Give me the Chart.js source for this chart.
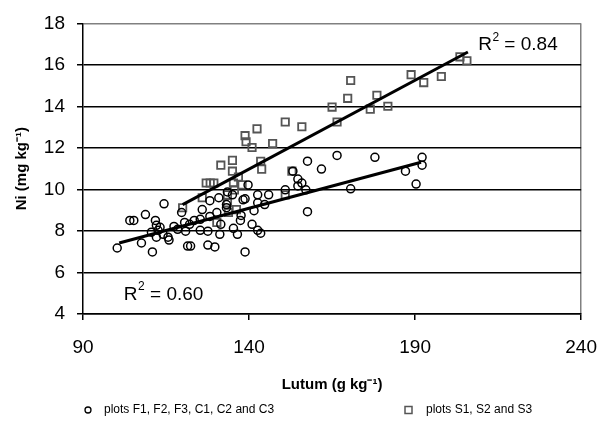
<!DOCTYPE html>
<html><head><meta charset="utf-8">
<script src="https://cdn.jsdelivr.net/npm/chart.js@4.4.0/dist/chart.umd.min.js"></script>
<style>html,body{margin:0;padding:0;background:#fff;}</style>
</head><body>
<canvas id="c" width="613" height="421"></canvas>
<script>
// Series F/C plots (circles): lutum (g/kg) and Ni (mg/kg)
const circleX = [100.3,104.1,105.3,107.6,108.8,110.9,111.8,112.1,113.2,110.6,112.1,114.1,112.6,114.4,115.9,117.4,119.7,120.6,120.9,121.5,122.4,122.1,123.5,125.3,125.9,125.3,127.6,127.6,128.2,128.2,129.7,130.9,131.2,131.5,130.3,133.2,133.5,135.0,135.3,136.5,137.4,137.6,138.2,138.8,139.7,140.9,141.5,142.6,142.6,142.6,143.5,144.7,145.9,150.9,153.2,154.7,155.9,154.7,157.1,157.6,157.6,161.8,166.5,170.6,177.9,187.1,190.3,192.1,192.1,138.8,115.6,133.2,118.5];
const circleY = [7.18,8.51,8.51,7.42,8.79,6.99,8.51,8.27,8.18,7.94,7.70,7.84,8.03,9.31,7.56,8.22,8.89,8.41,7.99,7.27,7.27,8.32,8.51,8.56,9.03,8.03,7.99,7.32,9.46,8.70,7.23,9.60,7.84,8.32,8.89,9.27,9.88,9.74,8.13,7.84,8.51,8.75,9.50,6.99,10.22,8.32,8.98,9.74,9.36,8.03,7.89,9.27,9.74,9.98,10.88,10.50,10.31,10.17,9.98,11.36,8.93,10.98,11.64,10.03,11.55,10.88,10.26,11.55,11.17,9.55,7.70,9.12,8.08];
// Series S plots (squares)
const squareX = [120.0,125.9,127.1,128.3,129.4,131.5,135.0,135.0,133.5,133.5,135.6,136.2,133.8,130.3,135.3,136.8,137.9,138.8,139.1,140.9,142.4,143.5,143.8,147.1,150.9,150.9,152.9,155.9,165.0,166.5,169.7,170.6,176.5,178.5,181.8,188.8,192.6,197.9,203.5,205.6];
const squareY = [9.12,9.60,10.31,10.31,10.31,11.17,11.40,10.88,9.74,9.36,9.98,9.03,8.89,8.41,10.31,10.60,10.22,12.59,12.30,12.02,12.92,11.36,10.98,12.21,13.25,9.74,10.88,13.02,13.97,13.25,14.39,15.25,13.87,14.54,14.01,15.53,15.15,15.44,16.39,16.20];
// Trend lines (end points)
const trendCircleX = [100.9, 191.8];
const trendCircleY = [7.42, 11.31];
const trendSquareX = [120.0, 205.9];
const trendSquareY = [9.27, 16.62];
// Labels
const legendLabels = ['plots F1, F2, F3, C1, C2 and C3', 'plots S1, S2 and S3'];
const r2Values = ['0.84', '0.60'];
const xTitle = 'Lutum (g kg\u207B\u00B9)';
const yTitle = 'Ni (mg kg\u207B\u00B9)';

const zip = (xs, ys) => xs.map((x, i) => ({x: x, y: ys[i]}));
const FONT = '"Liberation Sans", Arial, sans-serif';

const r2Pos = [{x: 209.0, y: 16.95}, {x: 102.3, y: 4.95}];

const extras = {
  id: 'extras',
  afterDraw(chart) {
    const ctx = chart.ctx;
    const xs = chart.scales.x, ys = chart.scales.y;
    ctx.save();
    ctx.fillStyle = '#000';
    ctx.textBaseline = 'middle';
    ctx.textAlign = 'left';
    r2Values.forEach((v, i) => {
      let px = xs.getPixelForValue(r2Pos[i].x);
      const py = ys.getPixelForValue(r2Pos[i].y);
      ctx.font = '19px ' + FONT;
      ctx.fillText('R', px, py);
      px += ctx.measureText('R').width + 0.5;
      ctx.font = '12px ' + FONT;
      ctx.fillText('2', px, py - 8);
      px += ctx.measureText('2').width;
      ctx.font = '19px ' + FONT;
      ctx.fillText(' = ' + v, px, py);
    });
    // legend
    const ly = 410;
    ctx.font = '12px ' + FONT;
    ctx.lineWidth = 1.3;
    ctx.strokeStyle = '#000';
    ctx.beginPath(); ctx.arc(88, ly, 3, 0, Math.PI * 2); ctx.stroke();
    ctx.fillText(legendLabels[0], 104, ly);
    ctx.strokeStyle = '#555';
    ctx.lineWidth = 1.5;
    ctx.strokeRect(405, ly - 3.5, 7, 7);
    ctx.fillText(legendLabels[1], 426, ly);
    ctx.restore();
  }
};

new Chart(document.getElementById('c'), {
  type: 'scatter',
  data: {
    datasets: [
      {label: 'trendS', data: zip(trendSquareX, trendSquareY), showLine: true, borderColor: '#000', borderWidth: 3, pointRadius: 0, order: 0},
      {label: 'trendF', data: zip(trendCircleX, trendCircleY), showLine: true, borderColor: '#000', borderWidth: 3, pointRadius: 0, order: 0},
      {label: legendLabels[1], data: zip(squareX, squareY), pointStyle: 'rect', pointRadius: 5.2, borderColor: '#555', borderWidth: 1.8, backgroundColor: 'rgba(0,0,0,0)', order: 2},
      {label: legendLabels[0], data: zip(circleX, circleY), pointStyle: 'circle', pointRadius: 4, borderColor: '#000', borderWidth: 1.5, backgroundColor: 'rgba(0,0,0,0)', order: 1}
    ]
  },
  options: {
    responsive: false,
    animation: false,
    events: [],
    layout: {padding: {left: 0, top: 23, right: 20, bottom: 24}},
    plugins: {legend: {display: false}, tooltip: {enabled: false}},
    scales: {
      x: {
        type: 'linear', min: 90, max: 240,
        afterFit: s => { s.height = 83; },
        ticks: {stepSize: 50, color: '#000', font: {family: FONT, size: 19}, padding: 16},
        grid: {
          drawOnChartArea: true,
          color: c => (c.tick && c.tick.value === 240) ? '#808080' : 'rgba(0,0,0,0)',
          tickColor: '#000', tickLength: 6, lineWidth: 1.5
        },
        border: {color: '#000', width: 1.5},
        title: {display: true, text: xTitle, color: '#000', font: {family: FONT, size: 15, weight: 'bold'}, padding: {top: 0, bottom: 3}}
      },
      y: {
        type: 'linear', min: 4, max: 18,
        afterFit: s => { s.width = 83; },
        ticks: {stepSize: 2, color: '#000', font: {family: FONT, size: 19}, padding: 12},
        grid: {
          color: c => (c.tick && c.tick.value === 18) ? '#808080' : '#000',
          tickColor: '#000', tickLength: 6, lineWidth: 1.5
        },
        border: {color: '#000', width: 1.5},
        title: {display: true, text: yTitle, color: '#000', font: {family: FONT, size: 15, weight: 'bold'}, padding: {top: 13, bottom: 0}}
      }
    }
  },
  plugins: [extras]
});
</script>
</body></html>
